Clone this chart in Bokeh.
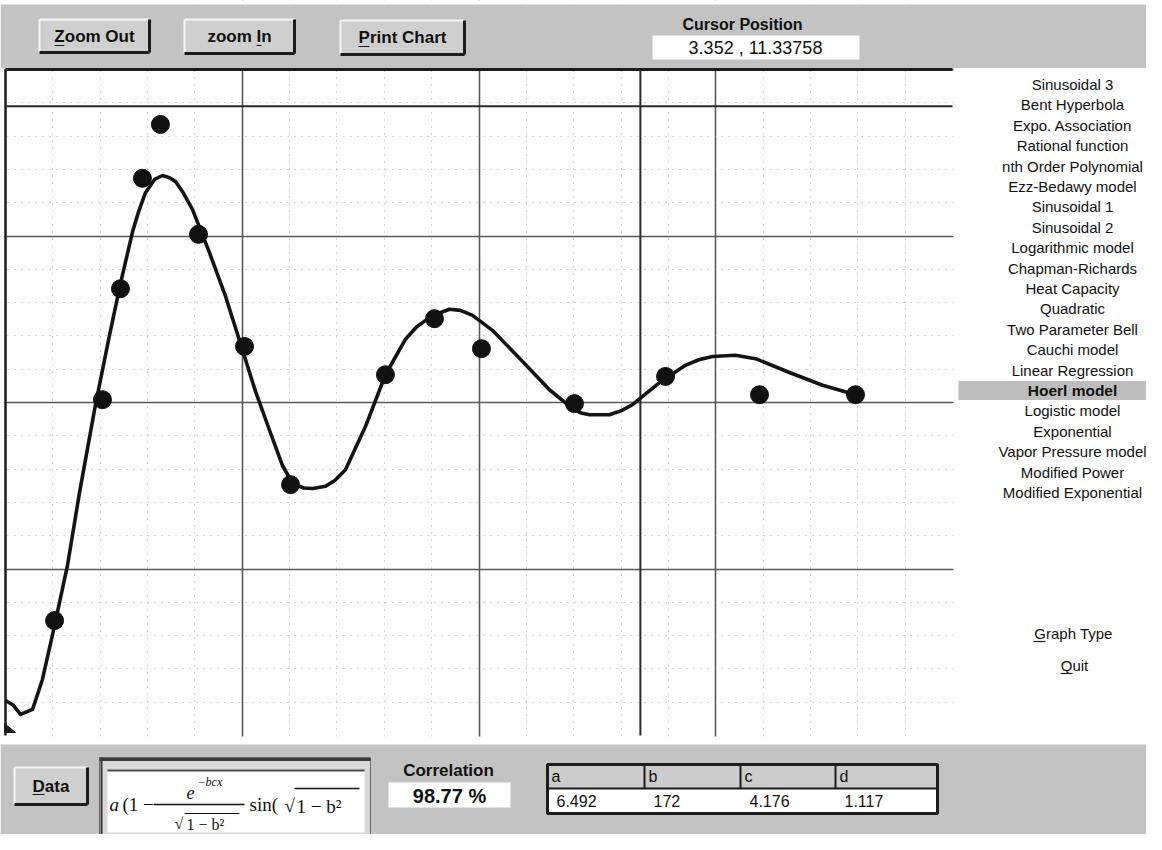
from bokeh.plotting import figure
from bokeh.models import Range1d, Grid, FixedTicker
from bokeh.core.properties import value
from bokeh.embed import file_html
from bokeh.resources import INLINE

# ---------------- data ----------------
obs_x = [0.259, 0.512, 0.607, 0.723, 0.818, 1.019, 1.262, 1.505, 2.006, 2.265,
         2.513, 3.004, 3.485, 3.981, 4.488]
obs_y = [2.07, 6.05, 8.05, 10.04, 11.01, 9.03, 7.01, 4.52, 6.50, 7.51,
         6.97, 5.98, 6.47, 6.14, 6.14]

fit_x = [0.000, 0.040, 0.079, 0.143, 0.195, 0.259, 0.327, 0.391, 0.475, 0.549,
         0.607, 0.671, 0.702, 0.739, 0.787, 0.829, 0.866, 0.898, 0.940, 0.987,
         1.077, 1.162, 1.241, 1.320, 1.394, 1.463, 1.500, 1.531, 1.575, 1.621,
         1.690, 1.740, 1.795, 1.901, 2.006, 2.112, 2.170, 2.218, 2.281, 2.344,
         2.402, 2.466, 2.571, 2.730, 2.872, 2.994, 3.040, 3.083, 3.189, 3.250,
         3.310, 3.453, 3.590, 3.660, 3.733, 3.854, 3.960, 4.139, 4.314, 4.488]
fit_y = [0.63, 0.55, 0.38, 0.47, 1.01, 1.98, 3.06, 4.38, 5.96, 7.21,
         8.14, 9.08, 9.43, 9.78, 10.02, 10.09, 10.05, 9.98, 9.77, 9.48,
         8.70, 7.91, 7.06, 6.20, 5.50, 4.86, 4.64, 4.52, 4.46, 4.45,
         4.49, 4.60, 4.79, 5.57, 6.50, 7.14, 7.36, 7.48, 7.60, 7.68,
         7.66, 7.57, 7.30, 6.74, 6.23, 5.89, 5.81, 5.78, 5.78, 5.85,
         5.96, 6.36, 6.67, 6.77, 6.83, 6.85, 6.79, 6.54, 6.31, 6.14]

cursor_x = 3.352
cursor_y = 11.33758
cursor_text = "3.352 , 11.33758"

x_major = [1.25, 2.5, 3.75]
y_major = [3, 6, 9, 12]
x_minor = [0.25, 0.5, 0.75, 1.0, 1.5, 1.75, 2.0, 2.25, 2.75, 3.0, 3.25, 3.5,
           4.0, 4.25, 4.5, 4.75]
y_minor = [0.6, 1.2, 1.8, 2.4, 3.6, 4.2, 4.8, 5.4, 6.6, 7.2, 7.8, 8.4,
           9.6, 10.2, 10.8, 11.4]

models = ["Sinusoidal 3", "Bent Hyperbola", "Expo. Association", "Rational function",
          "nth Order Polynomial", "Ezz-Bedawy model", "Sinusoidal 1", "Sinusoidal 2",
          "Logarithmic model", "Chapman-Richards", "Heat Capacity", "Quadratic",
          "Two Parameter Bell", "Cauchi model", "Linear Regression", "Hoerl model",
          "Logistic model", "Exponential", "Vapor Pressure model", "Modified Power",
          "Modified Exponential"]
selected_model = "Hoerl model"

param_names = ["a", "b", "c", "d"]
param_values = ["6.492", "172", "4.176", "1.117"]
correlation_text = "98.77 %"
button_labels = ["Zoom Out", "zoom In", "Print Chart"]

# ---------------- geometry (reference pixels) ----------------
W, H = 1146, 834
PX_L, PX_R, PY_T, PY_B = 8, 1154, 8, 842        # canvas in reference pixels
CX0, CX1, CY0, CY1 = 13, 960, 743, 77            # chart frame: x 0..5, y 0..12
XMAX, YMAX = 5.0, 12.0
sx = (CX1 - CX0) / XMAX
sy = (CY0 - CY1) / YMAX

x_range = Range1d((PX_L - CX0) / sx, (PX_R - CX0) / sx)
y_range = Range1d((CY0 - PY_B) / sy, (CY0 - PY_T) / sy)

p = figure(width=W, height=H, x_range=x_range, y_range=y_range,
           output_backend="svg", toolbar_location=None,
           x_axis_location=None, y_axis_location=None,
           min_border=0, outline_line_color=None,
           background_fill_color="white", border_fill_color="white")
p.extra_x_ranges = {"px": Range1d(PX_L, PX_R)}
p.extra_y_ranges = {"px": Range1d(PY_B, PY_T)}
p.grid.visible = False

xg = Grid(dimension=0, ticker=FixedTicker(ticks=x_major, minor_ticks=x_minor),
          grid_line_color="#585858", grid_line_width=1.6,
          minor_grid_line_color="#a8a8a8", minor_grid_line_width=1,
          minor_grid_line_dash="1 6")
yg = Grid(dimension=1, ticker=FixedTicker(ticks=y_major, minor_ticks=y_minor),
          grid_line_color="#585858", grid_line_width=1.6,
          minor_grid_line_color="#a8a8a8", minor_grid_line_width=1,
          minor_grid_line_dash="1 6")
p.add_layout(xg, "center")
p.add_layout(yg, "center")

PX = dict(x_range_name="px", y_range_name="px")
GRAY = "#c3c3c3"
DARK = "#1c1c1c"
SANS = "Liberation Sans"
SERIF = "Liberation Serif"


def box(l, t, r, b, fill, line=None, lw=1):
    p.quad(left=[l], right=[r], top=[t], bottom=[b], fill_color=fill,
           line_color=line, line_width=lw, **PX)


def seg(x0, y0, x1, y1, color, w):
    p.segment(x0=[x0], y0=[y0], x1=[x1], y1=[y1], line_color=color,
              line_width=w, **PX)


def txt(x, y, s, size, style="normal", align="center", font=SANS, color="#111111"):
    p.text(x=[x], y=[y], text=[s], text_font=value(font),
           text_font_size=f"{size}px", text_font_style=style,
           text_align=align, text_baseline="middle", text_color=color, **PX)


def button(l, t, r, b, label, size=17):
    box(l, t, r, b, "#cfcfcf")
    seg(l, t, r, t, "#f5f5f5", 2)
    seg(l, t, l, b, "#f5f5f5", 2)
    seg(l, b, r, b, DARK, 3)
    seg(r, t, r, b, DARK, 3)
    txt((l + r) / 2, (t + b) / 2, label, size, "bold")


# cover areas outside the chart frame
box(PX_L, PY_T, PX_R, 13, "white")
box(PX_L, CY1 - 1, 12, PY_B, "white")
box(961, PY_T, PX_R, PY_B, "white")
box(PX_L, 744, PX_R, PY_B, "white")

# chart borders and origin marker
seg(CX0, CY1, CX0, CY0, DARK, 2.5)
seg(CX0, CY1, CX1, CY1, DARK, 3)
p.patch(x=[12, 23, 12], y=[731, 740, 740], fill_color=DARK, line_color=DARK, **PX)

# cursor cross-hair
p.segment(x0=[cursor_x, 0], y0=[0, cursor_y], x1=[cursor_x, XMAX], y1=[YMAX, cursor_y],
          line_color="#2a2a2a", line_width=2)

# fitted curve and observations
p.line(fit_x, fit_y, line_color="#141414", line_width=3.6, line_join="round")
p.scatter(obs_x, obs_y, marker="circle", size=18, fill_color="#111111",
          line_color="#111111")

# ---------------- top bar ----------------
box(PX_L, 12, PX_R, 75.5, GRAY)
btn_boxes = [(47, 27, 157, 60), (192, 27, 302, 61), (348, 28, 472, 62)]
for (l, t, r, b), lab in zip(btn_boxes, button_labels):
    button(l, t, r, b, lab)
# accelerator underlines
seg(62, 53, 72, 53, DARK, 1.2)
seg(264, 53, 269, 53, DARK, 1.2)
seg(366, 54, 377, 54, DARK, 1.2)

txt(750, 32, "Cursor Position", 16, "bold")
box(660, 43, 867, 67, "white")
txt(763, 55.5, cursor_text, 18)

# ---------------- right panel ----------------
for i, name in enumerate(models):
    yy = 92 + 20.4 * i
    if name == selected_model:
        box(966, yy - 9.5, 1160, yy + 9.5, "#bdbdbd")
        txt(1080, yy, name, 15.5, "bold")
    else:
        txt(1080, yy, name, 15)
txt(1081, 641, "Graph Type", 15)
seg(1041, 649, 1053, 649, DARK, 1.2)
txt(1082, 673, "Quit", 15)
seg(1068, 681, 1080, 681, DARK, 1.2)

# ---------------- bottom bar ----------------
box(PX_L, 752, PX_R, PY_B, GRAY)
button(22, 775, 95, 812, "Data")
seg(40, 802, 52, 802, DARK, 1.2)

# formula panel
box(107, 765, 378, 845, "#d8d8d8", "#6a6a6a", 1)
seg(107, 767, 378, 767, "#3a3a3a", 3)
seg(109, 765, 109, 845, "#3a3a3a", 2)
box(115, 777, 372, 840, "white")
seg(115, 778, 372, 778, "#4a4a4a", 2)
txt(117, 812, "a", 19, "italic", "left", SERIF)
txt(130, 812, "(1 \u2212", 19, "normal", "left", SERIF)
seg(161, 812, 252, 812, "#111111", 1.5)
txt(198, 800, "e", 18, "italic", "center", SERIF)
txt(205, 789, "\u2212bcx", 12, "italic", "left", SERIF)
txt(182, 831, "\u221a", 16, "normal", "left", SERIF)
txt(194, 832, "1 \u2212 b\u00b2", 16, "normal", "left", SERIF)
seg(192, 821, 247, 821, "#111111", 1.2)
txt(257, 812, "sin(", 19, "normal", "left", SERIF)
txt(292, 813, "\u221a", 19, "normal", "left", SERIF)
txt(304, 814, "1 \u2212 b\u00b2", 19, "normal", "left", SERIF)
seg(302, 796, 367, 796, "#111111", 1.4)

# correlation
txt(456, 778, "Correlation", 17, "bold")
box(396, 790, 518, 815, "white")
txt(457, 803, correlation_text, 20, "bold")

# parameter table
col_edges = [555, 652, 748, 843, 945]
box(555, 772, 945, 795, "#cccccc")
box(555, 796, 945, 820, "white")
for i, (nm, vv) in enumerate(zip(param_names, param_values)):
    l = col_edges[i]
    txt(l + 4, 784, nm, 16, "normal", "left")
    txt(l + 9, 808.5, vv, 16, "normal", "left")
    if i > 0:
        seg(l, 772, l, 796, DARK, 2)
seg(555, 796, 945, 796, DARK, 2)
box(555, 772, 945, 821, None, DARK, 3)

open("out.html", "w").write(file_html(p, INLINE))
